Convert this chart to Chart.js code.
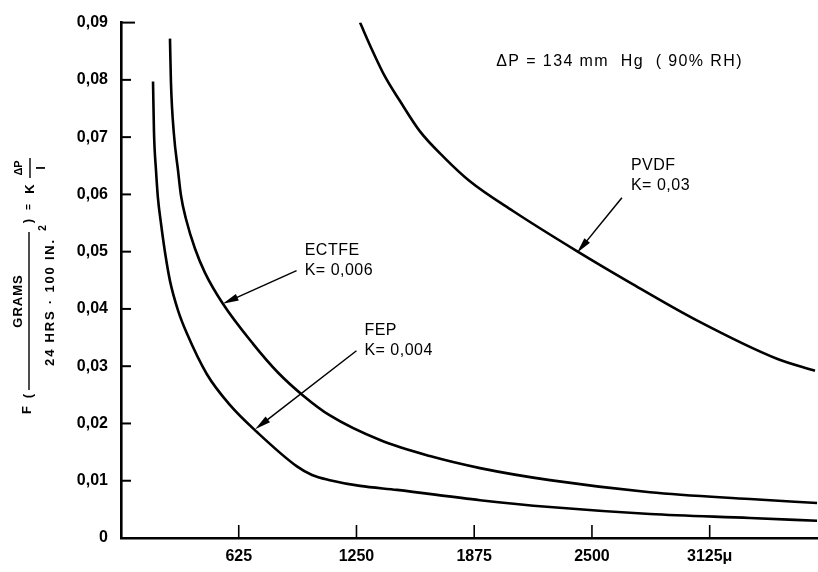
<!DOCTYPE html>
<html>
<head>
<meta charset="utf-8">
<script src="https://cdn.jsdelivr.net/npm/chart.js@4/dist/chart.umd.min.js"></script>
<style>
  html, body { margin: 0; padding: 0; background: #fff; }
  #wrap { width: 818px; height: 572px; position: relative; }
</style>
</head>
<body>
<div id="wrap"><canvas id="permChart"></canvas></div>
<script>
// thickness in microns vs transmission F
const fepX = [170, 175, 186, 196, 212, 234, 260, 303, 350, 456, 579, 722, 934, 1014, 1109, 1269, 1465, 1906, 2277, 2808, 3339, 3695];
const fepY = [0.0797, 0.0710, 0.0641, 0.0594, 0.0550, 0.0498, 0.0449, 0.0397, 0.0357, 0.0286, 0.0232, 0.0185, 0.0125, 0.0110, 0.0101, 0.0091, 0.0084, 0.0066, 0.0054, 0.0042, 0.0035, 0.0030];

const ectfeX = [260, 265, 281, 303, 318, 345, 393, 446, 541, 701, 833, 966, 1109, 1375, 1640, 1906, 2277, 2808, 3339, 3695];
const ectfeY = [0.0872, 0.0797, 0.0705, 0.0641, 0.0599, 0.0557, 0.0505, 0.0463, 0.0409, 0.0339, 0.0289, 0.0249, 0.0214, 0.0171, 0.0143, 0.0122, 0.0101, 0.0080, 0.0068, 0.0061];

const pvdfX = [1269, 1332, 1401, 1481, 1587, 1720, 1852, 2081, 2420, 2702, 3057, 3482, 3684];
const pvdfY = [0.0900, 0.0853, 0.0806, 0.0763, 0.0710, 0.0663, 0.0623, 0.0571, 0.0501, 0.0446, 0.0380, 0.0313, 0.0292];

const xTickVals = [625, 1250, 1875, 2500, 3125];
const xTickLabels = ["625", "1250", "1875", "2500", "3125\u03bc"];
const yTickVals = [0, 0.01, 0.02, 0.03, 0.04, 0.05, 0.06, 0.07, 0.08, 0.09];
const yTickLabels = ["0", "0,01", "0,02", "0,03", "0,04", "0,05", "0,06", "0,07", "0,08", "0,09"];

// callouts: text, where the text sits, arrow tail and arrow tip (data units)
const noteText = [["ECTFE", "K= 0,006"], ["FEP", "K= 0,004"], ["PVDF", "K= 0,03"]];
const noteX = [975, 1292, 2707];
const noteY = [0.0516, 0.0376, 0.0665];
const arrowFromX = [932, 1250, 2659];
const arrowFromY = [0.0467, 0.0327, 0.0594];
const arrowToX = [540, 712, 2421];
const arrowToY = [0.0409, 0.0190, 0.0498];

const headerText = "\u0394P = 134 mm  Hg  ( 90% RH)";
const headerX = 1992;
const headerY = 0.0846;

function pts(xs, ys) {
  return xs.map((x, i) => ({ x, y: ys[i] }));
}

function curve(label, xs, ys) {
  return {
    label,
    data: pts(xs, ys),
    borderColor: "#000",
    borderWidth: 2.6,
    pointRadius: 0,
    cubicInterpolationMode: "monotone",
    fill: false
  };
}

const FONT = "'Liberation Sans', 'DejaVu Sans', sans-serif";

function vtext(ctx, str, cx, cy, font, spacing) {
  ctx.save();
  ctx.translate(cx, cy);
  ctx.rotate(-Math.PI / 2);
  ctx.font = font;
  ctx.letterSpacing = spacing || "0px";
  ctx.textAlign = "center";
  ctx.textBaseline = "middle";
  ctx.fillText(str, 0, 0);
  ctx.restore();
}

function arrow(ctx, x1, y1, x2, y2) {
  const a = Math.atan2(y2 - y1, x2 - x1);
  const len = 16, hw = 3.6;
  ctx.beginPath();
  ctx.moveTo(x1, y1);
  ctx.lineTo(x2 - Math.cos(a) * len * 0.6, y2 - Math.sin(a) * len * 0.6);
  ctx.stroke();
  ctx.beginPath();
  ctx.moveTo(x2, y2);
  ctx.lineTo(x2 - Math.cos(a) * len + Math.sin(a) * hw, y2 - Math.sin(a) * len - Math.cos(a) * hw);
  ctx.lineTo(x2 - Math.cos(a) * len - Math.sin(a) * hw, y2 - Math.sin(a) * len + Math.cos(a) * hw);
  ctx.closePath();
  ctx.fill();
}

const decor = {
  id: "decor",
  afterDraw(chart) {
    const ctx = chart.ctx;
    const xs = chart.scales.x, ys = chart.scales.y;
    const area = chart.chartArea;
    ctx.save();
    ctx.fillStyle = "#000";
    ctx.strokeStyle = "#000";

    // inward tick marks
    ctx.lineWidth = 2;
    yTickVals.forEach((v, i) => {
      if (v === 0) return;
      const py = ys.getPixelForValue(v);
      ctx.beginPath();
      ctx.moveTo(area.left, py);
      ctx.lineTo(area.left + (i === yTickVals.length - 1 ? 14 : 10), py);
      ctx.stroke();
    });
    ctx.lineWidth = 1.6;
    xTickVals.forEach(v => {
      const px = xs.getPixelForValue(v);
      ctx.beginPath();
      ctx.moveTo(px, area.bottom);
      ctx.lineTo(px, area.bottom - 13);
      ctx.stroke();
    });

    // callouts
    ctx.lineWidth = 1.5;
    noteText.forEach((lines, i) => {
      const tx = xs.getPixelForValue(noteX[i]);
      const ty = ys.getPixelForValue(noteY[i]);
      ctx.font = "16px " + FONT;
      ctx.letterSpacing = "0.5px";
      ctx.textAlign = "left";
      ctx.textBaseline = "top";
      lines.forEach((s, k) => ctx.fillText(s, tx, ty + k * 20));
      arrow(ctx,
        xs.getPixelForValue(arrowFromX[i]), ys.getPixelForValue(arrowFromY[i]),
        xs.getPixelForValue(arrowToX[i]), ys.getPixelForValue(arrowToY[i]));
    });

    ctx.font = "16px " + FONT;
    ctx.letterSpacing = "1.4px";
    ctx.textAlign = "left";
    ctx.textBaseline = "top";
    ctx.fillText(headerText, xs.getPixelForValue(headerX), ys.getPixelForValue(headerY));
    ctx.letterSpacing = "0px";

    // y axis title: F ( GRAMS / 24 HRS . 100 IN.2 ) = K dP/l
    const f = "bold 13px " + FONT;
    vtext(ctx, "F", 27, 410, f);
    vtext(ctx, "(", 28, 396, f);
    ctx.lineWidth = 1.4;
    ctx.beginPath();
    ctx.moveTo(29, 390);
    ctx.lineTo(29, 232);
    ctx.stroke();
    vtext(ctx, "GRAMS", 18, 301, f, "1px");
    vtext(ctx, "24 HRS \u00b7 100 IN.", 50, 302, f, "1.8px");
    vtext(ctx, "2", 43, 228, "bold 10px " + FONT);
    vtext(ctx, ")", 28, 221, f);
    vtext(ctx, "=", 29, 207, "bold 10px " + FONT);
    vtext(ctx, "K", 30, 189, f);
    vtext(ctx, "\u0394P", 19, 168, "bold 11px " + FONT);
    ctx.beginPath();
    ctx.moveTo(30, 178);
    ctx.lineTo(30, 158);
    ctx.stroke();
    vtext(ctx, "l", 41, 168, f);
    ctx.restore();
  }
};

new Chart(document.getElementById("permChart"), {
  type: "line",
  data: {
    datasets: [
      curve("FEP", fepX, fepY),
      curve("ECTFE", ectfeX, ectfeY),
      curve("PVDF", pvdfX, pvdfY)
    ]
  },
  options: {
    animation: false,
    responsive: true,
    maintainAspectRatio: false,
    layout: { padding: { top: 21, right: 0, left: 0, bottom: 0 } },
    plugins: { legend: { display: false }, tooltip: { enabled: false } },
    scales: {
      x: {
        type: "linear",
        min: 0,
        max: 3700,
        afterFit: s => { s.height = 34; },
        afterBuildTicks: s => { s.ticks = xTickVals.map(v => ({ value: v })); },
        grid: { display: false, drawTicks: false },
        border: { display: true, color: "#000", width: 2.6 },
        ticks: {
          padding: 9,
          color: "#000",
          font: { family: FONT, size: 16, weight: "bold" },
          callback: v => xTickLabels[xTickVals.indexOf(v)] || ""
        }
      },
      y: {
        type: "linear",
        min: 0,
        max: 0.09,
        afterFit: s => { s.width = 121; },
        afterBuildTicks: s => { s.ticks = yTickVals.map(v => ({ value: v })); },
        grid: { display: false, drawTicks: false },
        border: { display: true, color: "#000", width: 2.6 },
        ticks: {
          padding: 13,
          color: "#000",
          font: { family: FONT, size: 16, weight: "bold" },
          callback: v => {
            const i = yTickVals.findIndex(t => Math.abs(t - v) < 1e-9);
            return i >= 0 ? yTickLabels[i] : "";
          }
        }
      }
    }
  },
  plugins: [decor]
});
</script>
</body>
</html>
